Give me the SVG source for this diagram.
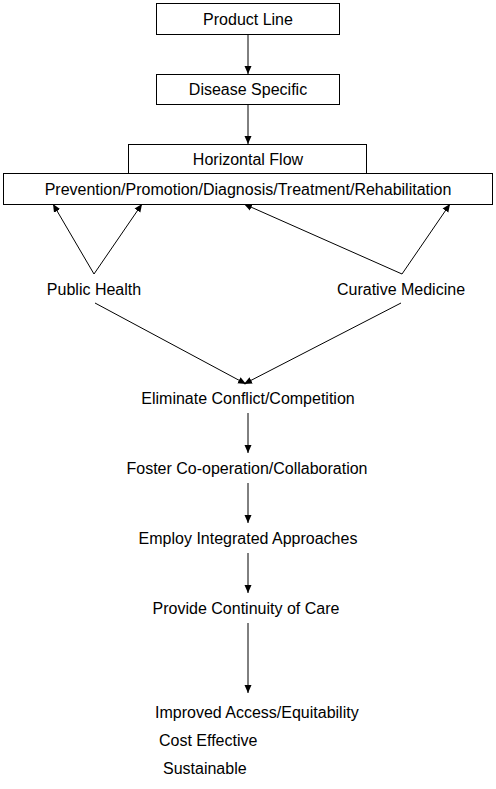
<svg xmlns="http://www.w3.org/2000/svg" width="496" height="789" viewBox="0 0 496 789">
<style>
.box{fill:#fff;stroke:#000;stroke-width:1}
.t{font-family:"Liberation Sans",Arial,sans-serif;font-size:16px;fill:#000}
.m{text-anchor:middle}
.c line{stroke:#000;stroke-width:1;marker-end:url(#ah)}
</style>
<defs>
<marker id="ah" markerWidth="8" markerHeight="8" viewBox="0 0 8 8" refX="8" refY="4" orient="auto" markerUnits="userSpaceOnUse">
<path d="M0,0.5 L8,4 L0,7.5 Z" fill="#000"/>
</marker>
</defs>
<rect width="496" height="789" fill="#fff"/>
<g id="connectors" class="c">
<line x1="248" y1="34" x2="248" y2="74"/>
<line x1="248" y1="104" x2="248" y2="144"/>
<line x1="94" y1="274" x2="53" y2="204"/>
<line x1="94" y1="274" x2="142" y2="204"/>
<line x1="402" y1="274" x2="244" y2="204"/>
<line x1="402" y1="274" x2="450" y2="204"/>
<line x1="95" y1="303" x2="246" y2="384"/>
<line x1="401" y1="303" x2="244" y2="384"/>
<line x1="248" y1="413" x2="248" y2="453"/>
<line x1="248" y1="483" x2="248" y2="523"/>
<line x1="248" y1="553" x2="248" y2="593"/>
<line x1="248" y1="623" x2="248" y2="693"/>
</g>
<g id="product-line"><rect class="box" x="156.5" y="3.5" width="183" height="31"/><text class="t m" x="248" y="25">Product Line</text></g>
<g id="disease-specific"><rect class="box" x="156.5" y="74.5" width="183" height="30"/><text class="t m" x="248" y="95">Disease Specific</text></g>
<g id="horizontal-flow"><rect class="box" x="128.5" y="144.5" width="238" height="30"/><text class="t m" x="248" y="165">Horizontal Flow</text></g>
<g id="prevention"><rect class="box" x="3.5" y="173.5" width="489" height="31"/><text class="t m" x="248" y="195">Prevention/Promotion/Diagnosis/Treatment/Rehabilitation</text></g>
<g id="public-health"><text class="t m" x="94" y="295">Public Health</text></g>
<g id="curative-medicine"><text class="t m" x="401" y="295">Curative Medicine</text></g>
<g id="eliminate"><text class="t m" x="248" y="404">Eliminate Conflict/Competition</text></g>
<g id="foster"><text class="t m" x="247" y="474">Foster Co-operation/Collaboration</text></g>
<g id="employ"><text class="t m" x="248" y="544">Employ Integrated Approaches</text></g>
<g id="provide"><text class="t m" x="246" y="614">Provide Continuity of Care</text></g>
<g id="outcomes"><text class="t" x="155" y="718">Improved Access/Equitability</text><text class="t" x="159" y="746">Cost Effective</text><text class="t" x="163" y="774">Sustainable</text></g>
</svg>
